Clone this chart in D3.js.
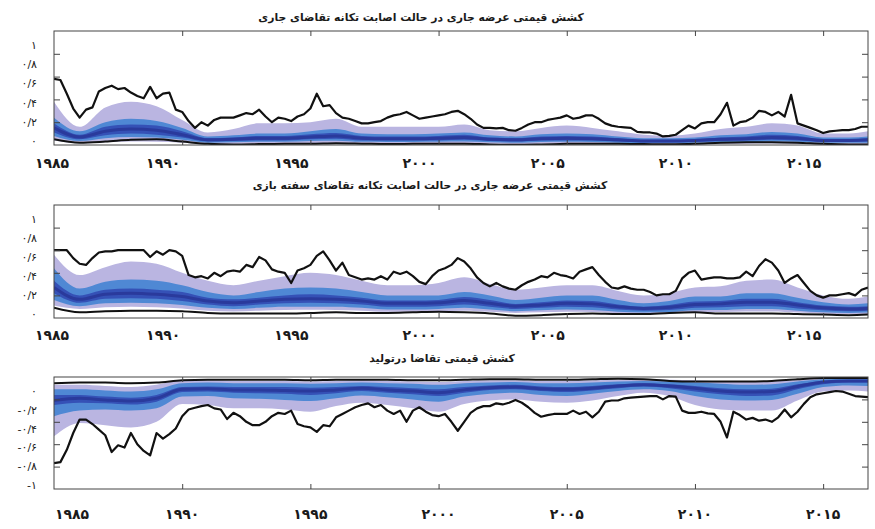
<!DOCTYPE html>
<html>
<head>
<meta charset="utf-8">
<script src="https://cdn.jsdelivr.net/npm/d3@7"></script>
<style>
  body { margin: 0; background: #fff; }
  text { font-family: "DejaVu Sans", sans-serif; fill: #1a1a1a; }
</style>
</head>
<body>
<svg id="chart" width="875" height="529"></svg>
<script>
// quarterly grid for the detailed black bound, yearly grid for the fan bands
const quarters = d3.range(128).map(i => 1985 + i / 4);
const bandYears = [1985, 1986, 1987, 1988, 1989, 1990, 1991, 1992, 1993, 1994, 1995, 1996, 1997, 1998, 1999, 2000,
                   2001, 2002, 2003, 2004, 2005, 2006, 2007, 2008, 2009, 2010, 2011, 2012, 2013, 2014, 2015, 2016, 2016.75];

const yearTicks = [1985, 1990, 1995, 2000, 2005, 2010, 2015];
const yearLabels = ["۱۹۸۵", "۱۹۹۰", "۱۹۹۵", "۲۰۰۰", "۲۰۰۵", "۲۰۱۰", "۲۰۱۵"];

const posTicks = [0, 0.2, 0.4, 0.6, 0.8, 1];
const posLabels = ["۰", "۰/۲", "۰/۴", "۰/۶", "۰/۸", "۱"];
const negTicks = [-1, -0.8, -0.6, -0.4, -0.2, 0];
const negLabels = ["-۱", "-۰/۸", "-۰/۶", "-۰/۴", "-۰/۲", "۰"];

const titles = [
  "کشش قیمتی عرضه جاری در حالت اصابت تکانه تقاضای جاری",
  "کشش قیمتی عرضه جاری در حالت اصابت تکانه تقاضای سفته بازی",
  "کشش قیمتی تقاضا درتولید"
];

// ---- panel 1 : supply elasticity, current demand shock
const p1Outer = [
  0.58,0.57,0.45,0.32, 0.24,0.31,0.33,0.47, 0.50,0.52,0.49,0.50, 0.46,0.43,0.41,0.51,
  0.41,0.45,0.46,0.31, 0.29,0.21,0.15,0.20, 0.17,0.22,0.24,0.24, 0.24,0.26,0.28,0.27,
  0.31,0.25,0.20,0.24, 0.23,0.21,0.25,0.27, 0.32,0.45,0.34,0.35, 0.28,0.24,0.23,0.21,
  0.19,0.19,0.20,0.21, 0.24,0.26,0.27,0.29, 0.26,0.23,0.24,0.25, 0.26,0.27,0.29,0.30,
  0.27,0.23,0.18,0.15, 0.15,0.145,0.15,0.13, 0.125,0.15,0.18,0.20, 0.20,0.22,0.23,0.24,
  0.26,0.23,0.24,0.26, 0.26,0.23,0.19,0.17, 0.16,0.155,0.15,0.115, 0.11,0.11,0.10,0.075,
  0.08,0.09,0.13,0.17, 0.145,0.19,0.20,0.20, 0.27,0.37,0.17,0.20, 0.21,0.24,0.30,0.29,
  0.26,0.29,0.25,0.44, 0.19,0.17,0.15,0.13, 0.105,0.12,0.125,0.13, 0.13,0.14,0.16,0.16
];
const p1Inner = [0.05,0.02,0.03,0.045,0.05,0.03,0.01,0.005,0.008,0.012,0.01,0.015,0.012,0.008,0.01,0.012,0.012,
                 0.005,0.002,0.005,0.01,0.012,0.01,0.008,0.006,0.01,0.02,0.025,0.025,0.02,0.01,0.005,0.005];
const p1Hi95 = [0.38,0.16,0.33,0.38,0.34,0.22,0.11,0.14,0.19,0.19,0.20,0.23,0.16,0.16,0.16,0.16,0.18,
                0.13,0.12,0.15,0.17,0.15,0.12,0.09,0.08,0.10,0.14,0.16,0.19,0.17,0.10,0.10,0.12];
const p1Hi68 = [0.24,0.12,0.20,0.23,0.21,0.15,0.075,0.085,0.10,0.10,0.12,0.14,0.10,0.095,0.095,0.10,0.11,
                0.085,0.075,0.095,0.10,0.095,0.075,0.06,0.06,0.065,0.085,0.095,0.115,0.10,0.065,0.065,0.075];
const p1Hi50 = [0.19,0.09,0.16,0.18,0.17,0.12,0.06,0.065,0.08,0.08,0.095,0.105,0.08,0.075,0.075,0.08,0.09,
                0.065,0.06,0.075,0.08,0.075,0.06,0.045,0.045,0.05,0.065,0.075,0.09,0.08,0.05,0.05,0.06];
const p1Med  = [0.15,0.07,0.12,0.14,0.13,0.09,0.045,0.05,0.06,0.06,0.07,0.08,0.06,0.055,0.055,0.06,0.065,
                0.05,0.045,0.055,0.06,0.055,0.045,0.035,0.035,0.04,0.05,0.055,0.065,0.06,0.04,0.04,0.045];
const p1Lo50 = [0.11,0.05,0.085,0.10,0.09,0.065,0.03,0.035,0.04,0.04,0.05,0.055,0.04,0.04,0.04,0.04,0.045,
                0.035,0.03,0.04,0.04,0.04,0.03,0.025,0.025,0.028,0.035,0.04,0.045,0.04,0.028,0.028,0.03];
const p1Lo68 = [0.08,0.035,0.06,0.07,0.065,0.045,0.02,0.025,0.028,0.028,0.035,0.038,0.028,0.027,0.027,0.028,0.03,
                0.025,0.02,0.027,0.028,0.027,0.02,0.017,0.017,0.02,0.024,0.027,0.03,0.028,0.02,0.02,0.02];
const p1Lo95 = [0.04,0.015,0.025,0.03,0.028,0.02,0.008,0.01,0.012,0.012,0.015,0.016,0.012,0.012,0.012,0.012,0.013,
                0.01,0.008,0.012,0.012,0.012,0.008,0.007,0.007,0.008,0.01,0.012,0.013,0.012,0.008,0.008,0.008];

// ---- panel 2 : supply elasticity, speculative demand shock
const p2Outer = [
  0.60,0.60,0.60,0.53, 0.48,0.47,0.53,0.58, 0.59,0.59,0.60,0.60, 0.60,0.60,0.60,0.54,
  0.59,0.56,0.60,0.59, 0.55,0.38,0.36,0.37, 0.35,0.40,0.37,0.41, 0.42,0.41,0.47,0.45,
  0.54,0.51,0.43,0.41, 0.40,0.31,0.42,0.44, 0.47,0.55,0.59,0.51, 0.42,0.49,0.38,0.36,
  0.34,0.35,0.34,0.37, 0.34,0.41,0.39,0.41, 0.37,0.32,0.30,0.37, 0.42,0.44,0.47,0.53,
  0.50,0.44,0.36,0.31, 0.28,0.31,0.28,0.26, 0.25,0.29,0.32,0.34, 0.37,0.36,0.40,0.38,
  0.37,0.35,0.41,0.43, 0.45,0.38,0.32,0.27, 0.26,0.28,0.26,0.25, 0.25,0.23,0.20,0.21,
  0.21,0.24,0.35,0.40, 0.42,0.34,0.35,0.36, 0.36,0.35,0.35,0.36, 0.41,0.37,0.46,0.52,
  0.49,0.42,0.31,0.35, 0.38,0.31,0.24,0.20, 0.18,0.20,0.20,0.21, 0.22,0.20,0.25,0.27
];
const p2Inner = [0.09,0.05,0.06,0.065,0.065,0.06,0.045,0.04,0.04,0.04,0.045,0.05,0.045,0.045,0.05,0.055,0.05,
                 0.04,0.02,0.025,0.035,0.04,0.035,0.035,0.045,0.05,0.04,0.04,0.04,0.035,0.03,0.025,0.03];
const p2Hi95 = [0.56,0.38,0.45,0.50,0.48,0.40,0.33,0.29,0.33,0.37,0.40,0.38,0.33,0.29,0.29,0.31,0.36,
                0.30,0.25,0.27,0.29,0.29,0.24,0.20,0.22,0.27,0.28,0.33,0.34,0.27,0.20,0.17,0.19];
const p2Hi68 = [0.44,0.26,0.32,0.34,0.33,0.29,0.23,0.20,0.23,0.26,0.27,0.26,0.23,0.20,0.20,0.20,0.23,
                0.20,0.16,0.18,0.20,0.20,0.16,0.13,0.15,0.19,0.19,0.22,0.22,0.18,0.14,0.12,0.13];
const p2Hi50 = [0.33,0.20,0.25,0.26,0.25,0.23,0.18,0.165,0.18,0.20,0.21,0.20,0.18,0.155,0.155,0.16,0.185,
                0.16,0.125,0.14,0.155,0.15,0.12,0.10,0.115,0.145,0.15,0.17,0.17,0.14,0.11,0.10,0.105];
const p2Med  = [0.27,0.165,0.21,0.22,0.21,0.19,0.15,0.135,0.15,0.165,0.17,0.165,0.15,0.13,0.13,0.135,0.155,
                0.13,0.105,0.115,0.13,0.125,0.10,0.085,0.095,0.12,0.125,0.14,0.14,0.115,0.09,0.08,0.085];
const p2Lo50 = [0.22,0.135,0.17,0.175,0.17,0.15,0.12,0.105,0.12,0.13,0.135,0.13,0.12,0.10,0.10,0.105,0.12,
                0.10,0.08,0.09,0.10,0.095,0.075,0.065,0.07,0.09,0.095,0.105,0.105,0.085,0.068,0.06,0.065];
const p2Lo68 = [0.16,0.105,0.13,0.135,0.13,0.115,0.09,0.08,0.09,0.10,0.10,0.10,0.09,0.075,0.075,0.08,0.09,
                0.075,0.06,0.068,0.075,0.07,0.055,0.048,0.052,0.068,0.07,0.08,0.08,0.065,0.05,0.045,0.048];
const p2Lo95 = [0.11,0.08,0.095,0.10,0.095,0.085,0.065,0.058,0.065,0.07,0.072,0.07,0.065,0.055,0.055,0.058,0.065,
                0.055,0.045,0.05,0.055,0.052,0.042,0.036,0.04,0.05,0.052,0.058,0.058,0.048,0.038,0.034,0.036];

// ---- panel 3 : demand elasticity in production
const p3Outer = [
  -0.77,-0.76,-0.65,-0.50, -0.38,-0.38,-0.42,-0.47, -0.52,-0.67,-0.61,-0.63, -0.50,-0.60,-0.66,-0.70,
  -0.50,-0.55,-0.51,-0.46, -0.35,-0.29,-0.275,-0.26, -0.25,-0.28,-0.29,-0.375, -0.32,-0.35,-0.40,-0.43,
  -0.43,-0.40,-0.35,-0.32, -0.33,-0.30,-0.42,-0.44, -0.45,-0.49,-0.43,-0.44, -0.36,-0.33,-0.30,-0.27,
  -0.25,-0.235,-0.27,-0.25, -0.30,-0.33,-0.30,-0.40, -0.30,-0.27,-0.31,-0.34, -0.35,-0.33,-0.40,-0.48,
  -0.40,-0.32,-0.28,-0.26, -0.26,-0.235,-0.245,-0.23, -0.205,-0.23,-0.27,-0.32, -0.355,-0.34,-0.33,-0.33,
  -0.33,-0.30,-0.33,-0.31, -0.36,-0.31,-0.22,-0.21, -0.21,-0.19,-0.185,-0.18, -0.175,-0.17,-0.17,-0.20,
  -0.17,-0.175,-0.30,-0.32, -0.32,-0.31,-0.325,-0.33, -0.40,-0.54,-0.31,-0.34, -0.38,-0.365,-0.39,-0.38,
  -0.40,-0.36,-0.29,-0.36, -0.31,-0.24,-0.18,-0.155, -0.145,-0.135,-0.125,-0.13, -0.15,-0.17,-0.175,-0.18
];
const p3Inner = [-0.055,-0.05,-0.05,-0.055,-0.05,-0.03,-0.025,-0.025,-0.025,-0.025,-0.03,-0.025,-0.025,-0.025,-0.03,-0.03,-0.025,
                 -0.02,-0.02,-0.025,-0.025,-0.02,-0.015,-0.02,-0.035,-0.04,-0.04,-0.04,-0.035,-0.02,-0.01,-0.01,-0.01];
const p3Hi95 = [-0.07,-0.07,-0.08,-0.09,-0.07,-0.03,-0.03,-0.035,-0.035,-0.035,-0.04,-0.035,-0.03,-0.035,-0.04,-0.045,-0.035,
                -0.03,-0.03,-0.035,-0.035,-0.03,-0.025,-0.02,-0.025,-0.03,-0.04,-0.045,-0.04,-0.025,-0.01,-0.005,-0.005];
const p3Hi68 = [-0.11,-0.11,-0.12,-0.13,-0.11,-0.055,-0.05,-0.055,-0.055,-0.055,-0.06,-0.055,-0.05,-0.055,-0.06,-0.07,-0.055,
                -0.05,-0.045,-0.055,-0.055,-0.05,-0.04,-0.035,-0.04,-0.05,-0.06,-0.07,-0.065,-0.04,-0.02,-0.015,-0.015];
const p3Hi50 = [-0.16,-0.16,-0.175,-0.185,-0.16,-0.09,-0.085,-0.09,-0.09,-0.09,-0.095,-0.09,-0.08,-0.09,-0.10,-0.11,-0.09,
                -0.075,-0.07,-0.085,-0.09,-0.08,-0.065,-0.055,-0.065,-0.08,-0.10,-0.11,-0.105,-0.065,-0.035,-0.025,-0.025];
const p3Med  = [-0.21,-0.19,-0.205,-0.215,-0.19,-0.11,-0.105,-0.115,-0.115,-0.12,-0.125,-0.115,-0.10,-0.115,-0.125,-0.14,-0.115,
                -0.095,-0.09,-0.105,-0.11,-0.10,-0.08,-0.07,-0.08,-0.10,-0.125,-0.135,-0.13,-0.085,-0.045,-0.035,-0.035];
const p3Lo50 = [-0.25,-0.23,-0.235,-0.245,-0.22,-0.135,-0.13,-0.14,-0.145,-0.15,-0.16,-0.145,-0.125,-0.14,-0.155,-0.17,-0.14,
                -0.115,-0.11,-0.125,-0.135,-0.12,-0.10,-0.085,-0.10,-0.13,-0.155,-0.17,-0.165,-0.11,-0.065,-0.05,-0.05];
const p3Lo68 = [-0.35,-0.30,-0.29,-0.30,-0.28,-0.175,-0.17,-0.19,-0.195,-0.205,-0.215,-0.19,-0.165,-0.18,-0.20,-0.22,-0.175,
                -0.15,-0.14,-0.16,-0.17,-0.15,-0.125,-0.11,-0.125,-0.17,-0.20,-0.21,-0.205,-0.15,-0.09,-0.075,-0.08];
const p3Lo95 = [-0.53,-0.41,-0.43,-0.45,-0.40,-0.24,-0.25,-0.28,-0.28,-0.29,-0.31,-0.26,-0.23,-0.25,-0.28,-0.31,-0.24,
                -0.21,-0.20,-0.22,-0.23,-0.21,-0.17,-0.14,-0.17,-0.25,-0.29,-0.30,-0.30,-0.21,-0.13,-0.12,-0.13];

const colLav = "#bab5e1", colBlue = "#4f88d4", colDark = "#3551b6", colMed = "#2a3a9c";

const panels = [
  {title: titles[0], outer: p1Outer, inner: p1Inner, hi95: p1Hi95, hi68: p1Hi68, hi50: p1Hi50, med: p1Med,
   lo50: p1Lo50, lo68: p1Lo68, lo95: p1Lo95, ticks: posTicks, labels: posLabels,
   top: 31, bottom: 145, titleX: 421, titleY: 21, yearY: 168, yearShift: -19, yearMin: 52},
  {title: titles[1], outer: p2Outer, inner: p2Inner, hi95: p2Hi95, hi68: p2Hi68, hi50: p2Hi50, med: p2Med,
   lo50: p2Lo50, lo68: p2Lo68, lo95: p2Lo95, ticks: posTicks, labels: posLabels,
   top: 205, bottom: 318, titleX: 430, titleY: 189, yearY: 340, yearShift: -19, yearMin: 52},
  {title: titles[2], outer: p3Outer, inner: p3Inner, hi95: p3Hi95, hi68: p3Hi68, hi50: p3Hi50, med: p3Med,
   lo50: p3Lo50, lo68: p3Lo68, lo95: p3Lo95, ticks: negTicks, labels: negLabels,
   top: 377, bottom: 489, titleX: 442, titleY: 362, yearY: 519, yearShift: 0, yearMin: 72}
];

const svg = d3.select("#chart");
const x = d3.scaleLinear().domain([1985, 2016.75]).range([54, 868]);

panels.forEach((p, k) => {
  const y = d3.scaleLinear().domain(d3.extent(p.ticks)).range([p.bottom, p.top]);
  // labels in the source sit a little inside the tick span
  const yLab = d3.scaleLinear().domain(d3.extent(p.ticks)).range([p.bottom - 4, p.top + 14]);

  svg.append("clipPath").attr("id", "clip" + k)
    .append("rect")
    .attr("x", x.range()[0]).attr("y", p.top)
    .attr("width", x.range()[1] - x.range()[0]).attr("height", p.bottom - p.top);

  const g = svg.append("g").attr("clip-path", "url(#clip" + k + ")");

  const bands = [[p.lo95, p.hi95, colLav], [p.lo68, p.hi68, colBlue], [p.lo50, p.hi50, colDark]];
  bands.forEach(([lo, hi, c]) => {
    g.append("path")
      .datum(bandYears.map((t, i) => ({t: t, lo: lo[i], hi: hi[i]})))
      .attr("fill", c)
      .attr("d", d3.area()
        .x(d => x(d.t)).y0(d => y(d.lo)).y1(d => y(d.hi))
        .curve(d3.curveMonotoneX));
  });

  g.append("path")
    .datum(bandYears.map((t, i) => ({t: t, v: p.med[i]})))
    .attr("fill", "none").attr("stroke", colMed).attr("stroke-width", 3)
    .attr("d", d3.line().x(d => x(d.t)).y(d => y(d.v)).curve(d3.curveMonotoneX));

  g.append("path")
    .datum(bandYears.map((t, i) => ({t: t, v: p.inner[i]})))
    .attr("fill", "none").attr("stroke", "#111").attr("stroke-width", 2)
    .attr("d", d3.line().x(d => x(d.t)).y(d => y(d.v)).curve(d3.curveMonotoneX));

  g.append("path")
    .datum(quarters.map((t, i) => ({t: t, v: p.outer[i]})))
    .attr("fill", "none").attr("stroke", "#111").attr("stroke-width", 2.2)
    .attr("stroke-linejoin", "round")
    .attr("d", d3.line().x(d => x(d.t)).y(d => y(d.v)));

  // frame
  svg.append("rect")
    .attr("x", x.range()[0]).attr("y", p.top)
    .attr("width", x.range()[1] - x.range()[0]).attr("height", p.bottom - p.top)
    .attr("fill", "none").attr("stroke", "#444").attr("stroke-width", 1);

  const inner = p.ticks.slice(1, -1);
  const yl = svg.append("g").attr("transform", "translate(" + x.range()[0] + ",0)")
    .call(d3.axisLeft(y).tickValues(inner).tickSize(-6).tickFormat(""));
  const yr = svg.append("g").attr("transform", "translate(" + x.range()[1] + ",0)")
    .call(d3.axisRight(y).tickValues(inner).tickSize(-6).tickFormat(""));
  const xb = svg.append("g").attr("transform", "translate(0," + p.bottom + ")")
    .call(d3.axisBottom(x).tickValues(yearTicks.slice(1)).tickSize(-5).tickFormat(""));
  const xt = svg.append("g").attr("transform", "translate(0," + p.top + ")")
    .call(d3.axisTop(x).tickValues(yearTicks.slice(1)).tickSize(-5).tickFormat(""));
  [yl, yr, xb, xt].forEach(a => {
    a.select(".domain").remove();
    a.selectAll("line").attr("stroke", "#444");
  });

  // y tick labels
  const lab = svg.append("g").attr("transform", "translate(37,0)")
    .call(d3.axisLeft(yLab).tickValues(p.ticks).tickSize(0).tickPadding(0)
      .tickFormat((d, i) => p.labels[i]));
  lab.select(".domain").remove();
  lab.selectAll("text").attr("font-size", 11).attr("font-family", "DejaVu Sans").attr("fill", "#222");

  // year labels
  svg.append("g").selectAll("text")
    .data(yearTicks)
    .join("text")
    .attr("x", (d) => Math.max(x(d) + p.yearShift, p.yearMin))
    .attr("y", p.yearY)
    .attr("text-anchor", "middle")
    .attr("font-size", 14).attr("font-weight", "bold")
    .text((d, i) => yearLabels[i]);

  svg.append("text")
    .attr("x", p.titleX).attr("y", p.titleY)
    .attr("text-anchor", "middle")
    .attr("font-size", 10.8).attr("font-weight", "bold")
    .text(p.title);
});
</script>
</body>
</html>
